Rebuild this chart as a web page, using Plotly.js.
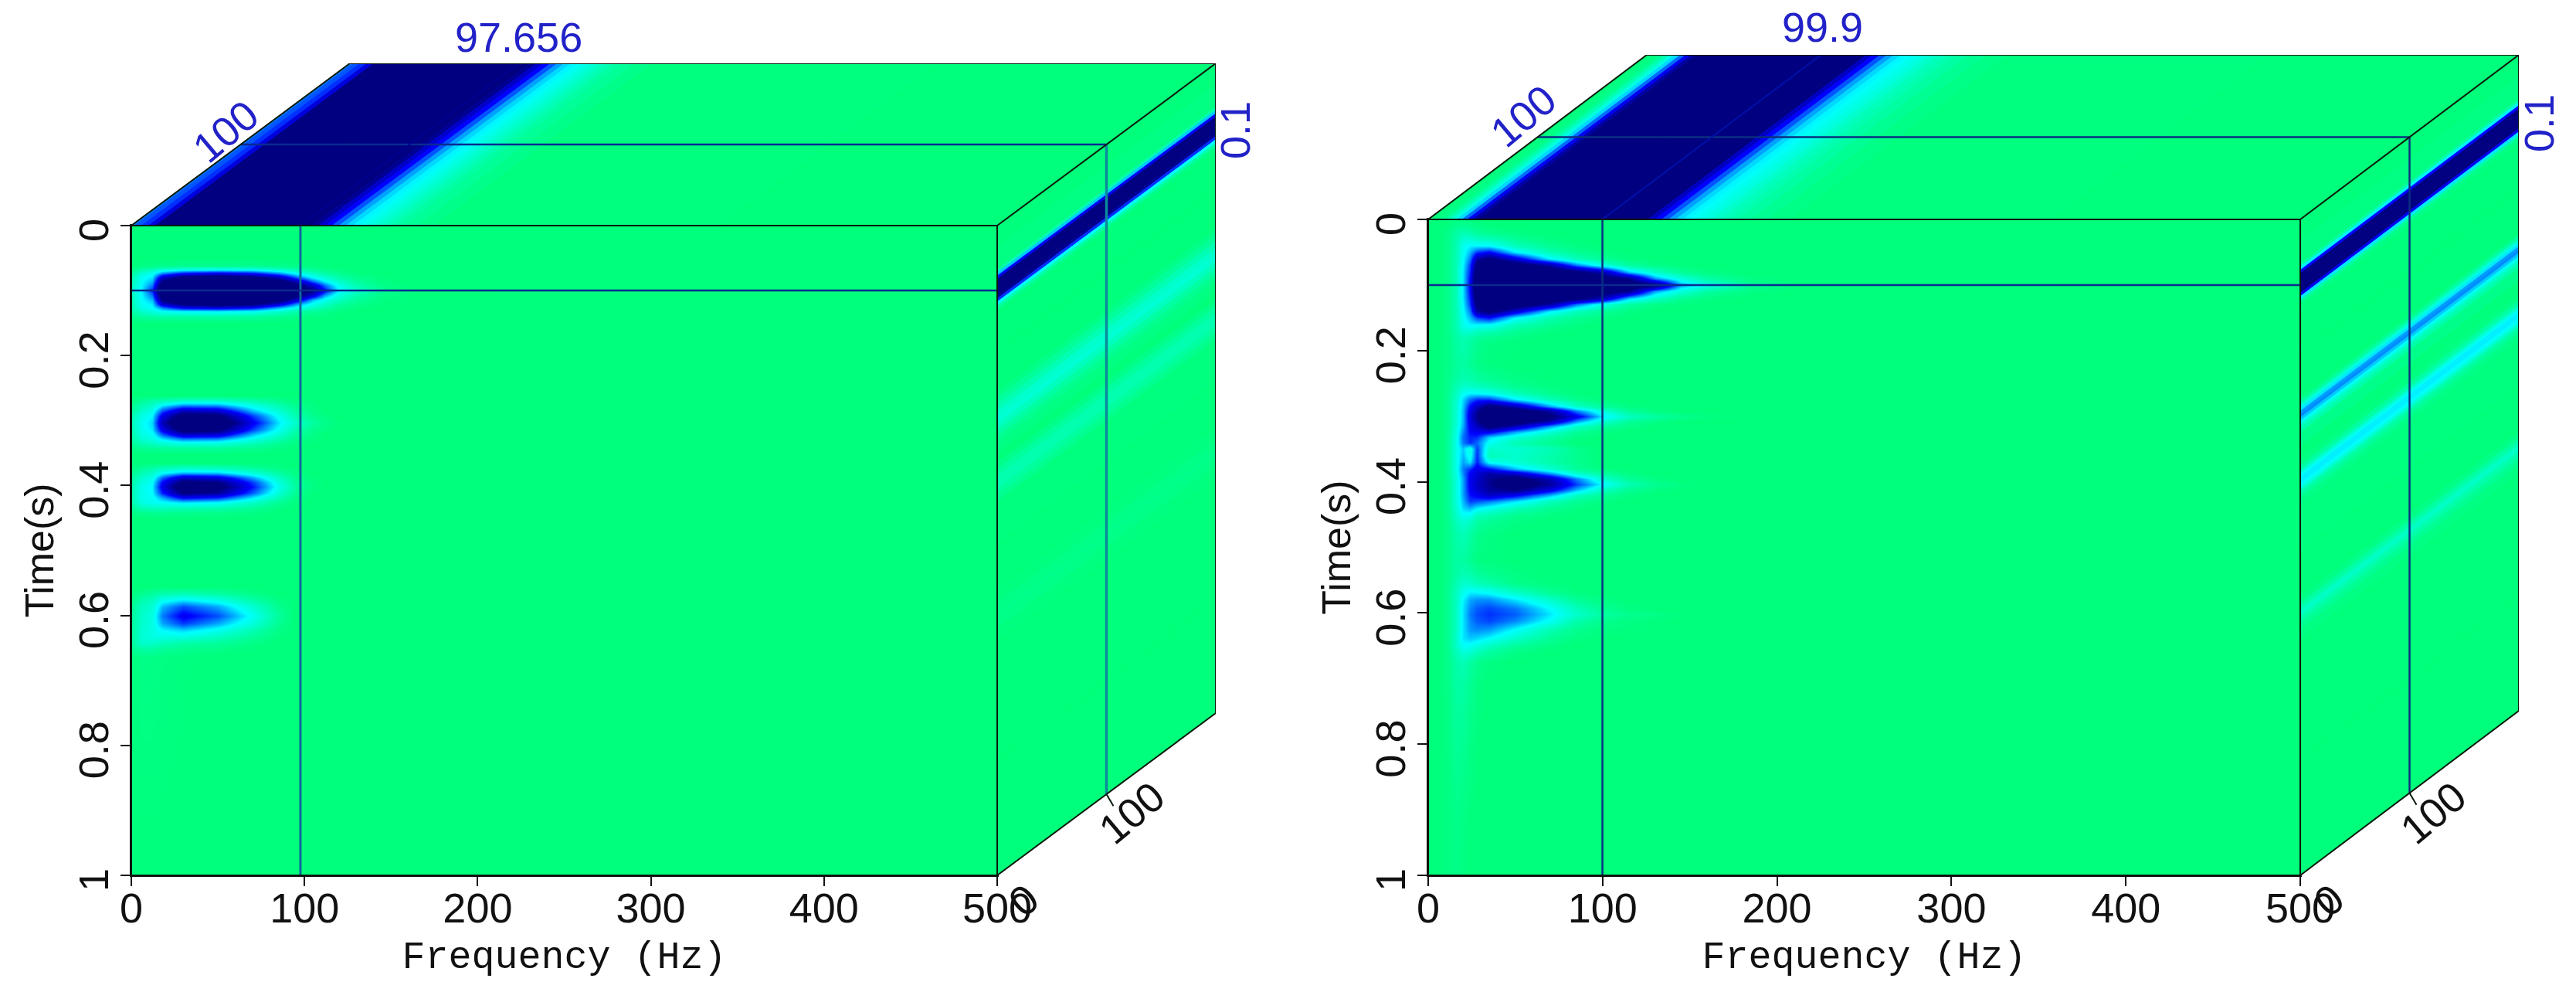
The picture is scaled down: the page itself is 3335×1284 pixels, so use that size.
<!DOCTYPE html>
<html><head><meta charset="utf-8">
<script src="https://cdn.plot.ly/plotly-3.0.1.min.js"></script>
<style>html,body{margin:0;padding:0;background:#fff}#chart{filter:blur(0.7px)}</style></head>
<body><div id="chart" style="width:3335px;height:1284px"></div>
<script>
const freqTicks=[0,100,200,300,400,500];
const timeTicks=[0,0.2,0.4,0.6,0.8,1];
const timeTickText=['0','0.2','0.4','0.6','0.8','1'];

const freqLeft=[0,6,12,18,30,50,70,85,95,105,112,120,130,145,165,498,500];
const timeLeft=[0,.002,.05,.062,.068,.074,.08,.086,.092,.1,.108,.114,.12,.126,.132,.14,.15,
 .262,.27,.277,.285,.292,.303,.314,.321,.328,.335,.342,.352,
 .365,.373,.381,.388,.395,.402,.411,.418,.426,.434,.442,.452,
 .555,.566,.576,.586,.6,.612,.622,.632,.642,.652,.665,1];
const zLeft=[
[],[],[],
[0,.02,.03,.04,.05,.05,.05,.04,.03,.02,.01],
[.03,.12,.18,.24,.3,.33,.31,.22,.14,.08,.04,.02],
[.08,.24,.3,.5,.68,.75,.68,.5,.33,.2,.12,.06,.02],
[.12,.3,.36,.8,1.05,1.15,1.05,.85,.55,.33,.22,.12,.05,.01],
[.14,.32,.42,1,1.25,1.35,1.25,1.1,.85,.52,.34,.2,.09,.02],
[.16,.33,.5,1.15,1.35,1.45,1.35,1.2,1.05,.78,.5,.28,.14,.03],
[.18,.35,.62,1.25,1.4,1.5,1.4,1.3,1.15,1,.66,.34,.2,.06,.01],
[.16,.33,.5,1.15,1.35,1.45,1.35,1.2,1.05,.72,.42,.24,.12,.03],
[.15,.32,.42,1,1.25,1.35,1.25,1.1,.8,.42,.28,.18,.08,.02],
[.14,.3,.36,.8,1.05,1.15,1.05,.8,.5,.3,.2,.1,.04,.01],
[.12,.27,.32,.5,.7,.75,.68,.45,.3,.2,.12,.05,.02],
[.1,.2,.25,.3,.33,.34,.3,.2,.12,.07,.04,.02],
[.04,.08,.1,.1,.1,.1,.08,.05,.03,.02,.01],
[],
[],
[.02,.08,.12,.16,.22,.22,.14,.06,.02,.01],
[.05,.14,.2,.36,.5,.48,.28,.14,.05,.02],
[.08,.2,.28,.56,.85,.8,.42,.22,.09,.03],
[.12,.26,.34,.72,1.1,1.05,.58,.3,.13,.05,.02],
[.16,.3,.38,.85,1.3,1.25,.7,.36,.2,.1,.04,.01],
[.14,.28,.36,.72,1.1,1.05,.58,.3,.13,.05,.02],
[.12,.26,.3,.54,.82,.78,.42,.22,.09,.03],
[.1,.22,.26,.36,.5,.48,.28,.14,.05,.02],
[.07,.14,.18,.22,.26,.24,.15,.06,.02],
[.03,.06,.07,.08,.08,.08,.05,.02],
[],
[],
[.02,.08,.12,.16,.2,.18,.1,.03,.01],
[.05,.14,.2,.32,.42,.4,.24,.1,.02],
[.08,.2,.27,.52,.8,.74,.44,.18,.05,.01],
[.11,.25,.32,.66,1.05,.98,.58,.25,.07,.02],
[.13,.28,.34,.72,1.2,1.1,.64,.28,.09,.02],
[.13,.28,.33,.62,1,.92,.54,.23,.06,.01],
[.12,.28,.3,.44,.68,.62,.36,.15,.03],
[.12,.26,.3,.32,.38,.34,.2,.07,.01],
[.07,.16,.18,.18,.16,.14,.08,.02],
[.02,.04,.05,.05,.04,.03,.02],
[],
[],
[.01,.05,.08,.12,.14,.1,.03],
[.03,.12,.17,.28,.34,.26,.11,.02],
[.06,.17,.22,.42,.56,.44,.22,.05],
[.08,.2,.26,.5,.7,.56,.3,.08],
[.08,.2,.26,.44,.58,.44,.24,.06],
[.08,.22,.26,.34,.4,.3,.15,.03],
[.08,.22,.26,.26,.26,.18,.08,.01],
[.08,.2,.2,.16,.12,.08,.03],
[.05,.1,.1,.08,.05,.03,.01],
[.01,.03,.03,.02,.01],
[]];

const freqRight=[0,8,12,16,20,24,28,35,50,70,85,100,115,130,145,160,185,210,498,500];
const timeRight=[0,.002,.01,.02,.03,.04,.05,.06,.07,.08,.09,.1,.11,.12,.13,.14,.15,.16,.17,.18,.19,.22,.245,
 .255,.265,.275,.285,.292,.3,.308,.316,.324,.332,.34,.35,.36,.37,.38,.388,.396,.404,.412,.42,.43,.44,.45,.46,.48,.52,.54,
 .555,.568,.58,.592,.602,.612,.625,.638,.648,.658,.675,.71,.8,.9,1];
const zRight=[
[0,0,.01,.03,.03,.02,.01],
[0,0,.01,.03,.03,.02,.01],
[0,0,.02,.05,.07,.05,.03,.01],
[0,.01,.04,.1,.14,.12,.08,.05,.02],
[0,.01,.05,.12,.22,.22,.18,.16,.07,.02],
[0,.01,.05,.14,.28,.34,.34,.33,.16,.06,.02],
[0,.01,.05,.14,.3,.42,.58,.66,.34,.14,.06,.02],
[0,.01,.05,.14,.32,.5,.9,1.05,.75,.34,.16,.07,.02],
[0,.01,.05,.15,.34,.58,1.05,1.25,1.15,.88,.5,.26,.09,.03,.01],
[0,.01,.05,.15,.36,.62,1.15,1.35,1.3,1.2,1.05,.85,.4,.2,.07,.02],
[0,.01,.05,.15,.36,.66,1.25,1.4,1.4,1.35,1.2,1.1,.95,.45,.24,.1,.02],
[0,.01,.05,.15,.36,.68,1.3,1.4,1.4,1.4,1.3,1.2,1.15,1.05,.45,.28,.07,.01],
[0,.01,.05,.15,.36,.66,1.25,1.4,1.4,1.35,1.2,1.1,.95,.45,.24,.1,.02],
[0,.01,.05,.15,.36,.62,1.15,1.35,1.3,1.2,1.05,.85,.4,.2,.07,.02],
[0,.01,.05,.15,.34,.58,1.05,1.25,1.15,.88,.5,.26,.09,.03,.01],
[0,.01,.05,.14,.32,.5,.9,1.05,.75,.34,.16,.07,.02],
[0,.01,.05,.14,.3,.42,.58,.66,.34,.14,.06,.02],
[0,.01,.05,.14,.28,.34,.34,.33,.16,.06,.02],
[0,.01,.05,.12,.22,.22,.18,.16,.07,.02],
[0,.01,.04,.1,.14,.12,.08,.05,.02],
[0,.01,.04,.1,.13,.1,.05,.02,.01],
[0,.01,.04,.08,.1,.07,.03,.01],
[0,.01,.05,.1,.14,.13,.1,.07,.03,.01],
[0,.01,.06,.14,.2,.2,.18,.14,.06,.02],
[0,.01,.07,.17,.3,.34,.33,.3,.16,.05,.01],
[0,.01,.08,.2,.38,.52,.6,.6,.36,.16,.05,.01],
[0,.01,.08,.22,.4,.66,.82,1.05,.85,.45,.2,.08,.02],
[0,.01,.08,.22,.42,.72,.92,1.25,1.15,.9,.5,.24,.08,.02],
[0,.01,.08,.22,.42,.75,.98,1.3,1.3,1.05,.72,.36,.18,.1,.05,.02],
[0,.01,.08,.22,.42,.73,.92,1.25,1.15,.88,.48,.22,.08,.03],
[0,.01,.08,.24,.44,.7,.82,1.05,.82,.45,.2,.08,.03],
[0,.01,.09,.26,.48,.66,.7,.7,.45,.22,.07,.02],
[0,.01,.1,.28,.52,.62,.6,.38,.24,.1,.03],
[0,.01,.1,.28,.5,.6,.52,.3,.14,.06],
[0,.01,.1,.28,.4,.25,.58,.2,.22,.15,.05],
[0,.01,.1,.28,.42,.28,.6,.16,.2,.12,.05],
[0,.01,.1,.28,.45,.36,.62,.3,.22,.12,.05],
[0,.01,.1,.28,.5,.6,.72,.66,.42,.22,.08,.02],
[0,.01,.1,.26,.48,.68,.78,.9,.8,.48,.22,.1,.02],
[0,.01,.09,.24,.45,.7,.8,.95,1.1,.85,.5,.22,.08,.02],
[0,.01,.08,.24,.45,.7,.82,.95,1.15,.92,.58,.32,.14,.06,.02],
[0,.01,.08,.24,.45,.68,.78,.92,1,.72,.42,.18,.06,.02],
[0,.01,.08,.24,.45,.64,.7,.8,.68,.42,.18,.07,.02],
[0,.01,.08,.24,.42,.58,.55,.5,.36,.16,.06,.02],
[0,.01,.08,.22,.38,.42,.34,.28,.16,.06,.02],
[0,.01,.07,.2,.3,.3,.18,.14,.06,.02],
[0,.01,.06,.16,.22,.18,.1,.06,.02],
[0,.01,.05,.12,.15,.1,.04,.02],
[0,.01,.05,.1,.1,.06,.02,.01],
[0,.01,.05,.11,.14,.12,.08,.05,.02],
[0,.01,.06,.14,.2,.2,.16,.12,.04,.01],
[0,.01,.07,.16,.28,.34,.33,.3,.18,.06,.01],
[0,.01,.07,.18,.34,.44,.47,.47,.36,.2,.07,.02],
[0,.01,.07,.18,.36,.48,.54,.57,.5,.32,.16,.06,.02],
[0,.01,.07,.18,.36,.5,.56,.6,.54,.36,.2,.1,.05,.03,.01],
[0,.01,.07,.18,.36,.48,.54,.57,.48,.3,.12,.05,.02,.01],
[0,.01,.07,.18,.36,.46,.48,.46,.32,.14,.05,.02,.01],
[0,.01,.07,.2,.36,.4,.38,.33,.2,.07,.02],
[0,.01,.07,.2,.32,.32,.28,.2,.1,.03],
[0,.01,.06,.16,.24,.22,.16,.1,.03],
[0,.01,.05,.12,.15,.1,.05,.02],
[0,.01,.04,.1,.1,.06,.02],
[0,.01,.03,.07,.06,.03,.01],
[0,.01,.02,.04,.03,.01],
[0,.01,.02,.03,.02]];

// Top face: amplitude against frequency on the time slice
const topFreqLeft=[0,4,8,12,16,20,98,102,106,110,114,118,122,126,130,134,138,142,146,150,155,160,170,180,500];
const topAmpLeft=[.5,.55,.6,.75,1,1.3,1.3,1.15,.95,.8,.66,.55,.45,.38,.34,.3,.26,.22,.18,.14,.1,.07,.04,.01,0];
const topFreqRight=[0,6,9,12,15,18,21,24,27,30,120,124,128,132,136,140,144,148,152,156,160,165,170,175,180,190,200,215,500];
const topAmpRight=[0,.02,.06,.15,.25,.38,.52,.7,.9,1.3,1.3,1,.82,.66,.55,.45,.38,.34,.31,.28,.25,.2,.16,.13,.1,.06,.03,.01,0];
// Side face: amplitude against time on the frequency slice
const sideTimeLeft=[0,.065,.07,.075,.08,.085,.09,.095,.1,.105,.11,.115,.12,.125,.13,.135,.14,.25,.26,.27,.28,.29,.3,.31,.32,.33,.34,.36,.37,.38,.39,.4,.41,.42,.43,.55,.57,.59,.6,.61,.63,.65,1];
const sideAmpLeft=[0,.02,.12,.4,.7,1.05,1.25,1.3,1.3,1.2,.95,.6,.33,.12,.03,0,0,0,.03,.08,.14,.2,.22,.17,.1,.05,.02,0,.04,.09,.13,.13,.09,.05,.01,0,.01,.03,.04,.03,.01,0,0];
const sideTimeRight=[0,.065,.07,.075,.08,.085,.09,.095,.1,.105,.11,.115,.12,.125,.13,.14,.27,.275,.28,.285,.29,.295,.3,.305,.31,.315,.32,.33,.36,.37,.38,.385,.39,.395,.4,.405,.41,.415,.42,.43,.44,.57,.58,.59,.595,.6,.605,.61,.62,.63,.65,1];
const sideAmpRight=[0,.02,.1,.35,.66,1.1,1.35,1.4,1.4,1.3,1.1,.7,.36,.1,.02,0,0,.04,.12,.24,.36,.46,.48,.4,.3,.2,.12,.04,0,.02,.1,.2,.3,.35,.35,.32,.24,.15,.08,.03,.01,0,.03,.1,.16,.19,.16,.11,.06,.02,0,0];

const sliceFreq=[97.656,99.9];
const sliceTime=[0.1,0.1];
const sliceDepth=[100,100];
const depthMax=200;
const W=3335,H=1284;
const geom=[
 {fl:170,fr:1291,ft:292,fb:1133,br:1574,bt:82},
 {fl:1849,fr:2978,ft:284,fb:1133,br:3261,bt:71}];
const stops=[[0,[0,255,122]],[.33,[0,255,255]],[.66,[0,0,255]],[1,[0,0,128]]];
const colorscale=stops.map(s=>[s[0],`rgb(${s[1].join(',')})`]);
function colour(v){v=Math.min(1,Math.max(0,v));
 for(let i=1;i<stops.length;i++){if(v<=stops[i][0]){const a=stops[i-1],b=stops[i],k=(v-a[0])/(b[0]-a[0]);
  return `rgb(${a[1].map((c,j)=>Math.round(c+(b[1][j]-c)*k)).join(',')})`}}
 return 'rgb(0,0,128)'}
const padRows=(rows,n)=>rows.map(r=>r.concat(new Array(n-r.length).fill(0)));
const edges=(s,hi)=>s.map((v,i)=>[i?(s[i-1]+v)/2:v,i<s.length-1?(v+s[i+1])/2:hi]);
const traces=[];
const annotations=[];
const layout={width:W,height:H,margin:{l:0,r:0,t:0,b:0},paper_bgcolor:'#fff',plot_bgcolor:'rgba(0,0,0,0)',
 showlegend:false,dragmode:false,hovermode:false,annotations};
const tickFont={family:'Liberation Sans',size:54,color:'#111'};

function panel(idx,freq,time,zRows,topF,topA,sideT,sideA,cubeLabel,lineV,diagColour){
 const g=geom[idx];
 const sx=idx?'2':'', fx='x'+sx, fy='y'+sx, ax=idx?'xaxis2':'xaxis', ay=idx?'yaxis2':'yaxis';
 const ox='x'+(idx+3), oy='y'+(idx+3);
 const fw=g.fr-g.fl, fh=g.fb-g.ft, dxPx=g.br-g.fr, dyPx=g.ft-g.bt;
 const xs=500*dxPx/fw, ys=dyPx/fh;
 layout[ax]={domain:[g.fl/W,g.fr/W],range:[0,500],tickmode:'array',tickvals:freqTicks,ticks:'outside',ticklen:12,tickwidth:2,tickcolor:'#111',
  showline:true,mirror:true,linecolor:'#111',linewidth:2,showgrid:false,zeroline:false,tickfont:tickFont,anchor:fy,ticklabelstandoff:-18,
  title:{text:'Frequency (Hz)',font:{family:'Liberation Mono',size:50,color:'#111'},standoff:14},automargin:false};
 layout[ay]={domain:[1-g.fb/H,1-g.ft/H],range:[1,0],tickmode:'array',tickvals:timeTicks,ticktext:timeTickText,tickangle:-90,ticks:'outside',ticklen:12,tickwidth:2,tickcolor:'#111',
  showline:true,mirror:true,linecolor:'#111',linewidth:2,showgrid:false,zeroline:false,tickfont:tickFont,anchor:fx,ticklabelstandoff:-6,ticklabelshift:-14,
  title:{text:'Time(s)',font:{family:'Liberation Sans',size:52,color:'#111'},standoff:5},automargin:false};
 const oxa='xaxis'+(idx+3), oya='yaxis'+(idx+3);
 layout[oxa]={domain:[g.fl/W,g.br/W],range:[0,500+xs],visible:false,anchor:oy,fixedrange:true};
 layout[oya]={domain:[1-g.fb/H,1-g.bt/H],range:[1,-ys],visible:false,anchor:ox,fixedrange:true};

 traces.push({type:'heatmap',x:freq,y:time,z:padRows(zRows,freq.length),xaxis:fx,yaxis:fy,zmin:0,zmax:1,zsmooth:'best',colorscale,showscale:false,hoverinfo:'skip'});
 const line=(x,y,c,w,xa,ya)=>traces.push({type:'scatter',mode:'lines',x,y,xaxis:xa,yaxis:ya,line:{color:c,width:w},hoverinfo:'skip'});
 // cross-hairs on the front face
 line([lineV,lineV],[0,1],idx?'#0a2f80':'#0b6a9c',idx?2.5:3,fx,fy);
 line([0,500],[sliceTime[idx],sliceTime[idx]],'#0a2a90',2.5,fx,fy);
 // sheared faces
 edges(topF,500).forEach((e,i)=>{const c=colour(topA[i]);
  traces.push({type:'scatter',mode:'lines',fill:'toself',fillcolor:c,line:{color:c,width:1},hoverinfo:'skip',xaxis:ox,yaxis:oy,
   x:[e[0],e[1],e[1]+xs,e[0]+xs,e[0]],y:[0,0,-ys,-ys,0]})});
 edges(sideT,1).forEach((e,i)=>{const c=colour(sideA[i]);
  traces.push({type:'scatter',mode:'lines',fill:'toself',fillcolor:c,line:{color:c,width:1},hoverinfo:'skip',xaxis:ox,yaxis:oy,
   x:[500,500+xs,500+xs,500,500],y:[e[0],e[0]-ys,e[1]-ys,e[1],e[0]]})});
 const k=sliceDepth[idx]/depthMax;
 const blue=idx?'#0a2f80':'#0a2a90';
 line([k*xs,500+k*xs],[-k*ys,-k*ys],blue,2.5,ox,oy);
 line([lineV,lineV+xs],[0,-ys],diagColour,2,ox,oy);
 line([500+k*xs,500+k*xs],[-k*ys,1-k*ys],idx?'#0a2f80':'#0b8a9c',idx?2.5:3.5,ox,oy);
 // cube frame
 traces.push({type:'scatter',mode:'lines',xaxis:ox,yaxis:oy,hoverinfo:'skip',line:{color:'#0a1a0a',width:2},connectgaps:false,
  x:[0,500,500,0,0,null,0,xs,500+xs,500,null,500+xs,500+xs,500,null,500+k*xs,500+k*xs+4],
  y:[0,0,1,1,0,null,0,-ys,-ys,0,null,-ys,1-ys,1,null,1-k*ys,1-k*ys+.018]});
 cubeLabel.forEach(a=>annotations.push({xref:'paper',yref:'paper',x:a[1]/W,y:1-a[2]/H,xanchor:'center',yanchor:'middle',showarrow:false,text:a[0],textangle:a[3],
   font:{family:'Liberation Sans',size:54,color:a[4]||'#2222c8'}}));
}
panel(0,freqLeft,timeLeft,zLeft,topFreqLeft,topAmpLeft,sideTimeLeft,sideAmpLeft,
 [['97.656',671,48,0],['100',292,170,-40],['0.1',1599,169,-90],['0',1325,1165,-40,'#111'],['100',1465,1052,-40,'#111']],sliceFreq[0],'#000090');
panel(1,freqRight,timeRight,zRight,topFreqRight,topAmpRight,sideTimeRight,sideAmpRight,
 [['99.9',2359,35,0],['100',1972,150,-40],['0.1',3287,160,-90],['0',3015,1165,-40,'#111'],['100',3150,1052,-40,'#111']],sliceFreq[1],'#0010a8');
Plotly.newPlot('chart',traces,layout,{staticPlot:true,displayModeBar:false});
</script></body></html>
